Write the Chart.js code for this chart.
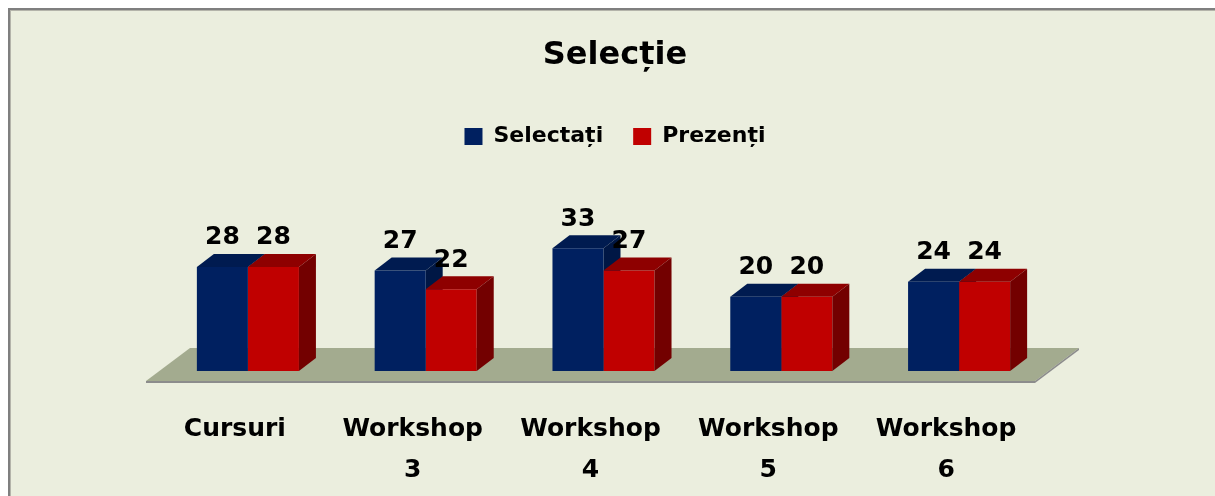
<!DOCTYPE html>
<html><head><meta charset="utf-8">
<script src="https://cdn.jsdelivr.net/npm/chart.js@4/dist/chart.umd.min.js"></script>
<style>html,body{margin:0;padding:0;background:#fff;overflow:hidden}canvas{display:block}</style>
</head><body>
<canvas id="c" width="1215" height="496"></canvas>
<script>
const categories = ['Cursuri', ['Workshop', '3'], ['Workshop', '4'], ['Workshop', '5'], ['Workshop', '6']];
const seriesNames = ['Selectați', 'Prezenți'];
const selectati = [28, 27, 33, 20, 24];
const prezenti = [28, 22, 27, 20, 24];
const chartTitle = 'Selecție';

const FONT = "'DejaVu Sans', sans-serif";
const DEPTH = { dx: 17, dy: -13 };
const faceColors = [
  { front: '#002060', top: '#001B50', side: '#001745' },
  { front: '#C00000', top: '#8E0000', side: '#730000' }
];

function poly(ctx, pts, color) {
  ctx.beginPath();
  ctx.moveTo(pts[0][0], pts[0][1]);
  for (let k = 1; k < pts.length; k++) ctx.lineTo(pts[k][0], pts[k][1]);
  ctx.closePath();
  ctx.fillStyle = color;
  ctx.fill();
}

function drawFaces(chart, dsIndex) {
  const ctx = chart.ctx;
  const meta = chart.getDatasetMeta(dsIndex);
  const c = faceColors[dsIndex];
  meta.data.forEach(bar => {
    const p = bar.getProps(['x', 'y', 'base', 'width'], true);
    const l = p.x - p.width / 2, r = p.x + p.width / 2;
    poly(ctx, [[l, p.y], [r, p.y], [r + DEPTH.dx, p.y + DEPTH.dy], [l + DEPTH.dx, p.y + DEPTH.dy]], c.top);
    poly(ctx, [[r, p.y], [r + DEPTH.dx, p.y + DEPTH.dy], [r + DEPTH.dx, p.base + DEPTH.dy], [r, p.base]], c.side);
  });
}

const backgroundPlugin = {
  id: 'bg',
  beforeDraw(chart) {
    const { ctx, width: w, height: h } = chart;
    ctx.save();
    ctx.fillStyle = '#FFFFFF';
    ctx.fillRect(0, 0, w, h);
    ctx.fillStyle = '#EBEEDE';
    ctx.fillRect(10, 10, w - 10, h - 10);
    ctx.fillStyle = '#7F7F7F';
    ctx.fillRect(8, 8, w - 8, 2);
    ctx.fillRect(8, 8, 2, h - 8);
    ctx.fillStyle = '#B4B4AA';
    ctx.fillRect(10, 10, w - 10, 1);
    ctx.fillRect(10, 10, 1, h - 10);
    ctx.restore();
  }
};

const threeDPlugin = {
  id: 'threeD',
  beforeDatasetsDraw(chart) {
    const ctx = chart.ctx;
    const a = chart.chartArea;
    const y0 = chart.scales.y.getPixelForValue(0);
    const fx = -13, fy = 10, bx = 31, by = -23;
    ctx.save();
    const FL = [a.left + fx, y0 + fy], FR = [a.right + fx, y0 + fy];
    const BR = [a.right + bx, y0 + by], BL = [a.left + bx, y0 + by];
    poly(ctx, [FL, FR, BR, BL], '#A3AB8F');
    poly(ctx, [FL, FR, [FR[0], FR[1] + 2], [FL[0], FL[1] + 2]], '#8C8C8C');
    poly(ctx, [FR, BR, [BR[0], BR[1] + 2], [FR[0], FR[1] + 2]], '#8C8C8C');
    for (let i = 0; i < chart.data.datasets.length - 1; i++) drawFaces(chart, i);
    ctx.restore();
  },
  afterDatasetsDraw(chart) {
    const ctx = chart.ctx;
    ctx.save();
    drawFaces(chart, chart.data.datasets.length - 1);
    ctx.font = "bold 25px " + FONT;
    ctx.fillStyle = '#000';
    ctx.textAlign = 'center';
    ctx.textBaseline = 'alphabetic';
    chart.data.datasets.forEach((ds, i) => {
      chart.getDatasetMeta(i).data.forEach((bar, j) => {
        const p = bar.getProps(['x', 'y'], true);
        ctx.fillText(String(ds.data[j]), p.x, p.y - 22.5);
      });
    });
    ctx.restore();
  }
};

Chart.defaults.color = '#000';
Chart.defaults.font.family = FONT;

new Chart(document.getElementById('c'), {
  type: 'bar',
  data: {
    labels: categories,
    datasets: [
      { label: seriesNames[0], data: selectati, backgroundColor: faceColors[0].front, borderWidth: 0, barPercentage: 1, categoryPercentage: 0.574 },
      { label: seriesNames[1], data: prezenti, backgroundColor: faceColors[1].front, borderWidth: 0, barPercentage: 1, categoryPercentage: 0.574 }
    ]
  },
  options: {
    responsive: false,
    animation: false,
    events: [],
    layout: { padding: { left: 159, right: 144, top: 0, bottom: 0 } },
    plugins: {
      title: {
        display: true, text: chartTitle, color: '#000',
        font: { size: 32, weight: 'bold', family: FONT, lineHeight: 1.2 },
        padding: { top: 36, bottom: 21 }
      },
      legend: {
        display: true, position: 'top',
        labels: {
          color: '#000', boxWidth: 18, boxHeight: 17, padding: 30,
          font: { size: 22, weight: 'bold', family: FONT }
        }
      },
      tooltip: { enabled: false }
    },
    scales: {
      x: {
        grid: { display: false }, border: { display: false },
        ticks: {
          color: '#000', padding: 29.5, labelOffset: -13, maxRotation: 0, autoSkip: false,
          font: { size: 25, weight: 'bold', family: FONT, lineHeight: 1.64 }
        },
        afterFit(s) { s.height = 125; }
      },
      y: {
        position: 'right', min: 0, max: 57.45,
        grid: { display: false }, border: { display: false },
        ticks: { display: false },
        afterFit(s) { s.width = 23; }
      }
    }
  },
  plugins: [backgroundPlugin, threeDPlugin]
});
</script>
</body></html>
